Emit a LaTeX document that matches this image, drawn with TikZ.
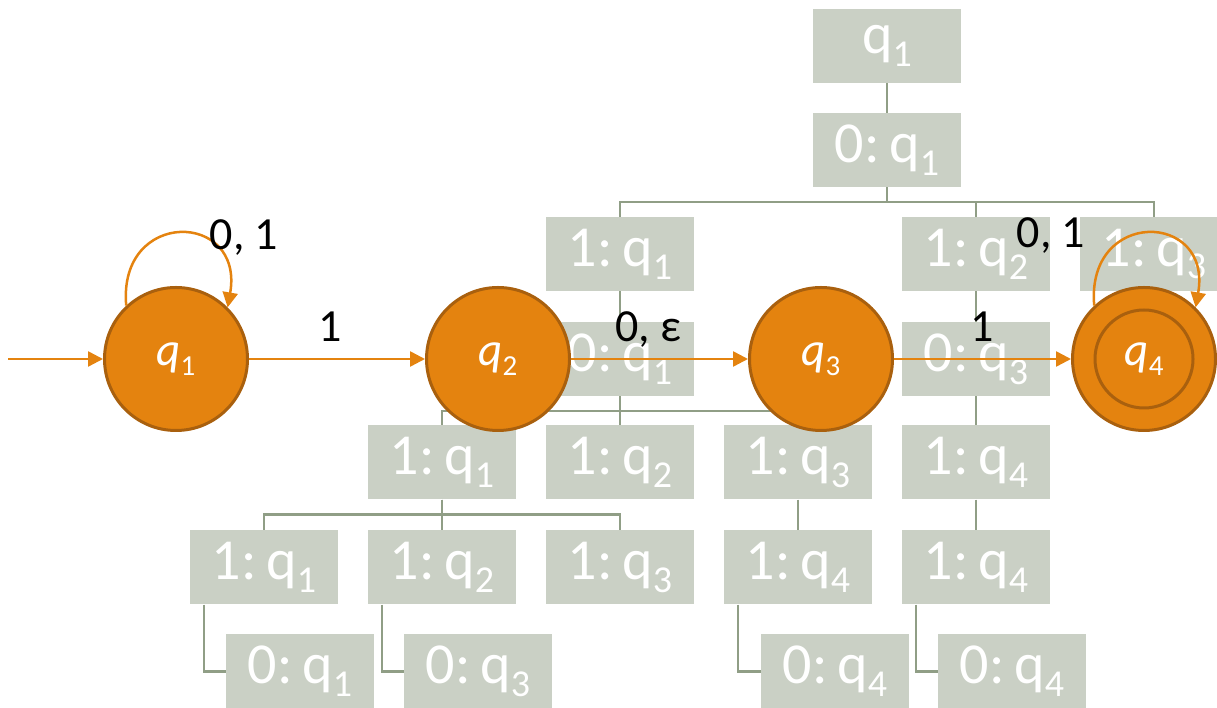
\documentclass[tikz,border=0pt]{standalone}
\usepackage{fontspec}
\setmainfont{Carlito}
\usetikzlibrary{arrows.meta,positioning}
\definecolor{nfaorange}{HTML}{E4830F}
\definecolor{nfarim}{HTML}{A9600E}
\definecolor{treefill}{HTML}{CAD0C5}
\definecolor{treeline}{HTML}{909E86}
\newcommand{\bq}[1]{q\raisebox{-0.22em}{\fontsize{38}{38}\selectfont #1}}
\newcommand{\cq}[1]{\textit{q}\raisebox{-0.22em}{\fontsize{29}{29}\selectfont #1}}

\begin{document}
\begin{tikzpicture}[x=1pt,y=1pt,
  tbox/.style={fill=treefill, text=white, minimum width=148pt, minimum height=74pt, inner sep=0pt, font=\fontsize{58}{58}\selectfont},
  tline/.style={draw=treeline, line width=2.4pt},
  nstate/.style={circle, fill=nfaorange, draw=nfarim, line width=3pt, minimum size=143pt, inner sep=0pt, text=white, font=\fontsize{47}{47}\selectfont},
  trans/.style={draw=nfaorange, line width=2.5pt, -{Triangle[length=15pt,width=15pt]}},
  lbl/.style={font=\fontsize{46}{46}\selectfont, anchor=base, yshift=17pt}]
\useasboundingbox (0,0) rectangle (1217,708);

\node[tbox] (r) at (887,662) {\bq{1}};
\node[tbox] (r0) at (887,558) {0:\,\bq{1}};
\node[tbox] (r01) at (620,454) {1:\,\bq{1}};
\node[tbox] (r02) at (976,454) {1:\,\bq{2}};
\node[tbox] (r03) at (1154,454) {1:\,\bq{3}};
\node[tbox] (r010) at (620,349) {0:\,\bq{1}};
\node[tbox] (r020) at (976,349) {0:\,\bq{3}};
\node[tbox] (r0101) at (442,245.5) {1:\,\bq{1}};
\node[tbox] (r0102) at (620,245.5) {1:\,\bq{2}};
\node[tbox] (r0103) at (798,245.5) {1:\,\bq{3}};
\node[tbox] (r0201) at (976,245.5) {1:\,\bq{4}};
\node[tbox] (s1) at (264,140.5) {1:\,\bq{1}};
\node[tbox] (s2) at (442,140.5) {1:\,\bq{2}};
\node[tbox] (s3) at (620,140.5) {1:\,\bq{3}};
\node[tbox] (s4) at (798,140.5) {1:\,\bq{4}};
\node[tbox] (s5) at (976,140.5) {1:\,\bq{4}};
\node[tbox] (s10) at (300,36.5) {0:\,\bq{1}};
\node[tbox] (s20) at (478,36.5) {0:\,\bq{3}};
\node[tbox] (s40) at (835,36.5) {0:\,\bq{4}};
\node[tbox] (s50) at (1012,36.5) {0:\,\bq{4}};

\foreach \p/\c in {r/r0, r0/r01, r0/r02, r0/r03, r01/r010, r02/r020,
    r010/r0101, r010/r0102, r010/r0103, r020/r0201,
    r0101/s1, r0101/s2, r0101/s3, r0103/s4, r0201/s5}
  \draw[tline] (\p.south) -- ++(0,-15) -| (\c.north);
\foreach \p/\c in {s1/s10, s2/s20, s4/s40, s5/s50}
  \draw[tline] ([xshift=14pt]\p.south west) |- (\c.west);

\node[nstate] (q1) at (176,349) {\cq{1}};
\node[nstate] (q2) at (498,349) {\cq{2}};
\node[nstate] (q3) at (821,349) {\cq{3}};
\node[nstate] (q4) at (1144,349) {\cq{4}};
\draw[nfarim, line width=3pt] (q4.center) circle (49pt);
\coordinate (init) at (8,349);

\draw[trans] (init) -- (q1);
\draw[trans] (q1) -- node[lbl, xshift=-7pt] {1} (q2);
\draw[trans] (q2) -- node[lbl, xshift=-11pt] {0, ε} (q3);
\draw[trans] (q3) -- node[lbl] {1} (q4);
\draw[trans] (q1.133) .. controls +(95:98) and +(80:98) .. (q1.45);
\draw[trans] (q4.133) .. controls +(95:98) and +(80:98) .. (q4.45);
\node[lbl, yshift=-17pt] (l1) at ([shift={(68,109)}]q1.center) {0, 1};
\node[lbl, yshift=-17pt] (l4) at ([shift={(-93,111)}]q4.center) {0, 1};
\end{tikzpicture}
\end{document}
